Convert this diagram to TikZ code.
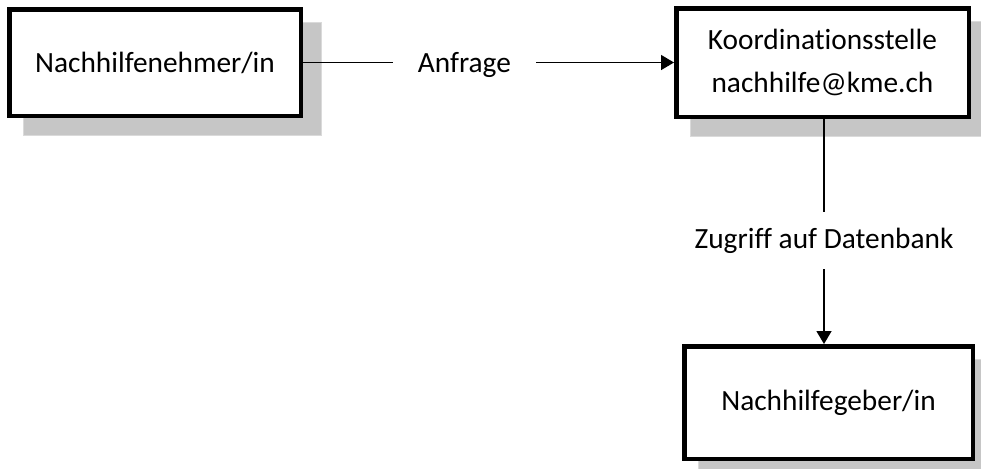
\documentclass[tikz,border=0pt]{standalone}
\usepackage{fontspec}
\setmainfont{Carlito}[Ligatures=NoCommon]
\usetikzlibrary{calc,arrows.meta,backgrounds}
\definecolor{shadowgray}{RGB}{198,198,198}
\definecolor{shadowedge}{RGB}{218,218,218}
\begin{document}
\begin{tikzpicture}[x=0.5pt,y=-0.5pt,
  box/.style={draw=black, line width=2.25pt, fill=white, rectangle, inner sep=0pt,
    font=\fontsize{14.67}{21.5}\selectfont, align=center},
  shadowbox/.style={fill=shadowgray, draw=shadowedge, line width=0.5pt},
  conn/.style={draw=black, line width=0.75pt, -{Triangle[length=6.5pt,width=7.5pt]}},
  lab/.style={fill=white, inner sep=0pt, font=\fontsize{14.67}{17.6}\selectfont}]
\useasboundingbox (0,0) rectangle (981,468);
\clip (0,0) rectangle (981,468);
\node[box, minimum width=145.75pt, minimum height=53.25pt] (A) at (155,62.5) {Nachhilfenehmer/in};
\node[box, minimum width=146.25pt, minimum height=54.25pt] (B) at (822.5,62.5) {Koordinationsstelle\\nachhilfe@kme.ch};
\node[box, minimum width=144.25pt, minimum height=56.25pt] (C) at (828.5,402.5) {Nachhilfegeber/in};
\begin{scope}[on background layer]
  \fill[white] (0,0) rectangle (981,468);
  \foreach \n in {A,B,C}
    \draw[shadowbox] ($(\n.north west)+(16,15)$) rectangle ($(\n.south east)+(18,17)$);
\end{scope}
\coordinate (vx) at (824,0);
\draw[conn] (A.east) -- node[lab, pos=0.435, minimum width=71.5pt, minimum height=20pt, yshift=-1pt] {Anfrage} (B.west);
\draw[conn] (B.south -| vx) -- node[lab, pos=0.54, minimum height=28.5pt] {Zugriff auf Datenbank} (C.north -| vx);
\end{tikzpicture}
\end{document}
